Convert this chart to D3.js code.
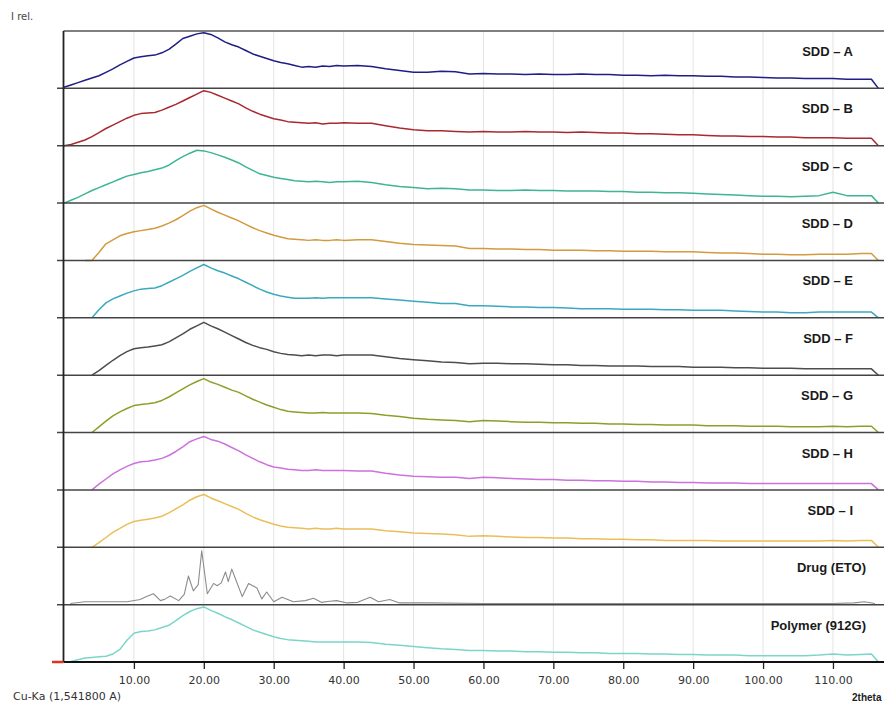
<!DOCTYPE html>
<html><head><meta charset="utf-8">
<script src="https://cdn.jsdelivr.net/npm/d3@7"></script>
<style>
html,body{margin:0;padding:0;background:#fff;}
svg{display:block;}
</style></head>
<body>
<svg id="chart" width="885" height="704"></svg>
<script>
// ---------- DATA ----------
const angles = [0,1,2,3,4,5,6,7,8,9,10,11,12,13,14,15,16,17,18,19,20,21,22,23,24,25,26,27,28,29,30,31,32,33,34,35,36,37,38,39,40,
  42,44,46,48,50,52,54,56,58,60,62,64,66,68,70,72,74,76,78,80,82,84,86,88,90,92,94,96,98,100,102,104,106,108,110,112,114,115.5,116.5];

const sddA = [2,6,10,14,18,22,28,34,41,47,53,55,57,58,62,68,77,87,91,95,97,94,88,81,76,72,66,60,56,52,48,45,43,40,37,38,37,39,38,40,39,
  40,38,34,31,28,28,30,29,25,26,25,25,24,25,24,24,25,24,24,23,23,22,23,22,22,21,21,20,20,19,18,18,17,17,17,16,16,16,0];
const sddB = [0,2,6,10,16,23,30,36,42,48,53,56,57,58,62,67,72,78,84,90,96,93,88,83,78,73,66,60,55,51,47,45,42,41,40,39,40,38,39,39,40,
  39,39,35,31,28,26,26,25,24,25,24,24,25,24,24,23,24,23,22,22,21,21,20,19,19,18,17,17,16,16,15,15,14,14,14,13,13,13,0];
const sddC = [0,5,10,16,22,27,32,37,42,47,50,53,55,58,61,66,74,81,87,92,91,88,84,80,75,70,63,57,51,48,45,43,41,39,38,37,38,37,36,37,37,
  38,36,32,29,27,25,26,25,23,23,22,22,23,22,22,21,21,21,20,20,19,19,18,18,17,16,15,14,13,12,12,11,12,13,19,13,13,13,0];
const sddD = [null,null,null,0,0,14,29,36,43,47,50,52,54,56,60,65,71,78,86,92,96,90,84,79,74,69,63,57,52,48,44,41,38,37,36,35,36,35,35,36,35,
  36,36,33,30,28,27,26,25,21,21,20,20,19,19,18,18,18,17,17,16,16,16,15,15,15,14,13,13,12,11,11,10,10,11,11,11,12,12,0];
const sddE = [null,null,null,null,0,14,26,33,38,43,47,50,51,52,56,62,68,74,81,87,93,87,82,78,73,68,62,56,50,45,41,38,36,34,34,34,35,34,35,35,35,
  35,35,33,31,29,27,25,25,21,21,20,19,19,18,18,17,16,16,16,15,15,15,14,14,13,13,13,12,11,10,10,9,9,10,10,10,10,10,0];
const sddF = [null,null,null,null,0,8,17,26,34,41,46,48,49,51,53,58,65,72,80,86,92,86,81,75,69,63,57,52,48,45,41,38,36,35,34,35,34,35,35,34,35,
  35,35,32,29,27,25,23,22,20,21,21,20,20,19,18,18,17,17,16,16,16,15,15,15,14,14,14,13,13,12,12,12,11,11,11,11,11,11,0];
const sddG = [null,null,null,null,0,10,20,29,36,42,47,49,50,52,56,62,69,76,83,89,94,88,84,79,74,70,64,58,53,48,44,40,37,36,35,34,34,35,34,34,34,
  34,33,30,28,25,23,22,21,19,21,20,19,18,18,17,17,16,16,15,15,14,14,13,13,13,12,12,12,11,11,11,10,10,10,11,10,11,11,0];
const sddH = [null,null,null,null,0,10,19,28,35,41,46,49,50,52,55,60,67,75,84,89,93,88,85,80,74,68,61,55,49,44,40,38,36,35,34,34,35,34,34,34,34,
  33,33,29,26,24,23,22,22,20,22,21,20,19,18,18,17,17,16,16,15,15,14,14,13,13,12,12,12,11,11,11,11,11,11,11,11,11,11,0];
const sddI = [null,null,null,null,0,8,17,26,33,40,45,47,49,51,54,60,67,74,82,88,92,86,81,76,71,66,59,53,48,44,40,37,35,34,33,32,33,32,32,33,32,
  32,32,29,27,25,24,23,22,19,20,19,18,17,17,16,16,15,15,14,14,13,13,12,12,12,12,11,11,11,11,11,11,11,11,12,11,12,12,0];
const polymer = [null,1,4,7,8,9,10,14,22,38,50,53,54,56,60,64,72,81,88,93,96,90,85,79,74,68,62,56,52,48,44,41,39,38,37,36,35,35,35,35,35,
  35,34,31,29,27,25,23,22,20,20,19,19,18,18,17,17,16,16,15,15,15,14,14,13,13,12,12,12,11,11,11,11,11,12,14,12,13,14,0];

const drugAngles = [0.9,3,6,9,10.9,11.8,12.8,13.8,14.5,15.2,16.4,17.2,17.8,18.5,19.2,19.7,20.5,21.4,21.9,22.5,
  23.1,23.5,24.0,24.5,25.5,26.4,27.0,27.6,28.3,29.0,30.0,31.2,32.8,34.5,35.7,36.8,38,39,40.5,42,
  43.8,45,46.6,48,52,60,70,80,90,100,110,113,114.5,116];
const drug = [2,5,5,5,9,14,19,7,10,15,7,18,50,24,35,94,19,37,33,38,
  57,40,62,46,14,37,33,29,10,22,5,13,5,7,11,4,6,7,3,4,
  13,5,9,3,3,2,2,2,2,2,2,3,5,2];

const labels = ["SDD \u2013 A","SDD \u2013 B","SDD \u2013 C","SDD \u2013 D","SDD \u2013 E","SDD \u2013 F",
  "SDD \u2013 G","SDD \u2013 H","SDD \u2013 I","Drug (ETO)","Polymer (912G)"];
const colors = ["#1e1e84","#a82a30","#3db595","#d39a3e","#3aa9bf","#4d4d4d",
  "#8c9f28","#cc72dc","#eabf58","#8c8c8c","#7cd5c9"];
const tickValues = [10,20,30,40,50,60,70,80,90,100,110];
const xTitle = "2theta";
const yTitle = "I rel.";
const radiation = "Cu-Ka (1,541800 A)";

// ---------- LAYOUT ----------
const svg = d3.select("#chart");
const pLeft = 63.5, pRight = 884, pTop = 31, pBottom = 662;
const nPanels = labels.length;
const ph = (pBottom - pTop) / nPanels;
const x = d3.scaleLinear().domain([0, 117.3]).range([64, 884]);

const series = [
  {a: angles, v: sddA}, {a: angles, v: sddB}, {a: angles, v: sddC},
  {a: angles, v: sddD}, {a: angles, v: sddE}, {a: angles, v: sddF},
  {a: angles, v: sddG}, {a: angles, v: sddH}, {a: angles, v: sddI},
  {a: drugAngles, v: drug}, {a: angles, v: polymer}
];

// vertical grid
svg.append("g").selectAll("line").data(tickValues).join("line")
  .attr("x1", d => x(d)).attr("x2", d => x(d))
  .attr("y1", pTop).attr("y2", pBottom)
  .attr("stroke", "#e3e3e3").attr("stroke-width", 1);

// curves
series.forEach((s, i) => {
  const t0 = pTop + i * ph;
  const y = d3.scaleLinear().domain([0, 100]).range([t0 + ph, t0]);
  const pts = s.a.map((ang, k) => [ang, s.v[k]]);
  const line = d3.line().defined(d => d[1] !== null)
    .x(d => x(d[0])).y(d => y(d[1]));
  svg.append("path").datum(pts)
    .attr("d", line).attr("fill", "none")
    .attr("stroke", colors[i]).attr("stroke-width", i === 9 ? 1.1 : 1.5)
    .attr("stroke-linejoin", "round");
});

// top border
svg.append("line").attr("x1", pLeft).attr("x2", pRight).attr("y1", pTop).attr("y2", pTop)
  .attr("stroke", "#555").attr("stroke-width", 1.5);
// panel separators
svg.append("g").selectAll("line").data(d3.range(1, nPanels)).join("line")
  .attr("x1", 57).attr("x2", pRight)
  .attr("y1", d => pTop + d * ph).attr("y2", d => pTop + d * ph)
  .attr("stroke", "#444").attr("stroke-width", 1.5);

// left axis line
svg.append("line").attr("x1", pLeft).attr("x2", pLeft).attr("y1", pTop).attr("y2", pBottom)
  .attr("stroke", "#222").attr("stroke-width", 1.8);

// bottom axis
const axis = d3.axisBottom(x).tickValues(tickValues).tickFormat(d3.format(".2f"))
  .tickSize(7).tickPadding(5).tickSizeOuter(0);
const gAx = svg.append("g").attr("transform", `translate(0,${pBottom})`).call(axis);
gAx.select(".domain").remove();
gAx.selectAll(".tick line").attr("stroke", "#222").attr("stroke-width", 1.3);
gAx.selectAll(".tick text").attr("font-family", "DejaVu Sans").attr("font-size", 11)
  .attr("fill", "#333").attr("dy", "0.95em");
svg.append("line").attr("x1", pLeft).attr("x2", pRight).attr("y1", pBottom).attr("y2", pBottom)
  .attr("stroke", "#111").attr("stroke-width", 2.2);
svg.append("line").attr("x1", 52).attr("x2", pLeft).attr("y1", pBottom).attr("y2", pBottom)
  .attr("stroke", "#e0301e").attr("stroke-width", 2.5);

// panel labels
svg.append("g").selectAll("text").data(labels).join("text")
  .attr("x", (d, i) => i < 9 ? 853 : 866)
  .attr("y", (d, i) => pTop + i * ph + 25)
  .attr("text-anchor", "end")
  .attr("font-family", "Liberation Sans, Arial, sans-serif")
  .attr("font-weight", "bold").attr("font-size", 13).attr("fill", "#1a1a1a")
  .text(d => d);

// titles
svg.append("text").attr("x", 11).attr("y", 20).attr("font-family", "DejaVu Sans")
  .attr("font-size", 10).attr("fill", "#444").text(yTitle);
svg.append("text").attr("x", 13).attr("y", 700).attr("font-family", "DejaVu Sans")
  .attr("font-size", 11).attr("fill", "#333").text(radiation);
svg.append("text").attr("x", 852).attr("y", 701).attr("font-family", "Liberation Sans, Arial, sans-serif")
  .attr("font-weight", "bold").attr("font-size", 10).attr("fill", "#222").text(xTitle);
</script>
</body></html>
